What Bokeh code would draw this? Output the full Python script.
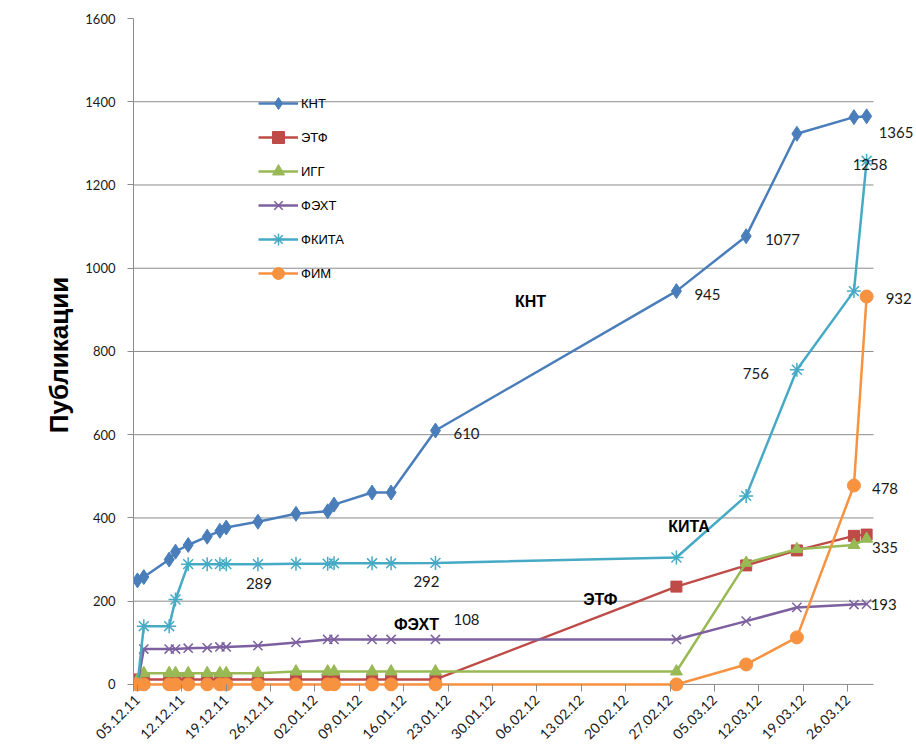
import math
import pandas as pd
from bokeh.plotting import figure
from bokeh.models import (Range1d, FixedTicker, DatetimeTickFormatter, Legend,
                          LegendItem, Label, ColumnDataSource)
from bokeh.embed import file_html
from bokeh.resources import INLINE

# ---------------- data ----------------
dates = ["05.12.11", "06.12.11", "10.12.11", "11.12.11", "13.12.11", "16.12.11",
         "18.12.11", "19.12.11", "24.12.11", "30.12.11", "04.01.12", "05.01.12",
         "11.01.12", "14.01.12", "21.01.12", "28.02.12", "10.03.12", "18.03.12",
         "27.03.12", "29.03.12"]
knt = [250, 258, 300, 319, 335, 355, 369, 377, 391, 410, 416, 432, 461, 461,
       610, 945, 1077, 1323, 1363, 1365]
etf = [12, 12, 12, 12, 12, 12, 12, 12, 12, 12, 12, 12, 12, 12,
       12, 235, 286, 322, 357, 360]
igg = [10, 27, 27, 27, 27, 27, 27, 27, 27, 31, 31, 31, 31, 31,
       31, 31, 292, 325, 335, 350]
fekht = [0, 85, 85, 85, 87, 88, 90, 90, 93, 101, 108, 108, 108, 108,
         108, 108, 152, 185, 192, 193]
fkita = [0, 140, 140, 204, 289, 289, 289, 289, 289, 290, 290, 291, 291, 291,
         292, 305, 453, 756, 945, 1258]
fim = [0, 0, 0, 0, 0, 0, 0, 0, 0, 0, 0, 0, 0, 0,
       0, 0, 48, 113, 478, 932]

tick_labels = ["05.12.11", "12.12.11", "19.12.11", "26.12.11", "02.01.12",
               "09.01.12", "16.01.12", "23.01.12", "30.01.12", "06.02.12",
               "13.02.12", "20.02.12", "27.02.12", "05.03.12", "12.03.12",
               "19.03.12", "26.03.12"]
y_ticks = [0, 200, 400, 600, 800, 1000, 1200, 1400, 1600]

series_names = ["КНТ", "ЭТФ", "ИГГ", "ФЭХТ", "ФКИТА", "ФИМ"]
series_values = [knt, etf, igg, fekht, fkita, fim]

# ---------------- styling ----------------
colors = ["#4A7EBB", "#BE4B48", "#98B954", "#7D60A0", "#46AAC5", "#F69240"]
markers = [("diamond", 15), ("square", 11), ("triangle", 12),
           ("x", 13), ("asterisk", 14), ("circle", 13)]
GRID = "#8C8C8C"
NUM_FONT = "Lato"
TXT_FONT = "Liberation Sans"

x = pd.to_datetime(dates, format="%d.%m.%y")
ticks = pd.to_datetime(tick_labels, format="%d.%m.%y")

# plot area: axis spans 740 px; the frame is widened to the right so that
# the data labels beyond the axis end are not clipped, and a little below 0
# so that the markers lying on 0 are drawn whole
AXIS_W, FRAME_W = 740, 783
x_start = x[0] - pd.Timedelta(hours=15)
x_axis_end = x[-1] + pd.Timedelta(hours=26)
x_end = x_start + (x_axis_end - x_start) * (FRAME_W / AXIS_W)
Y_BELOW = 17

p = figure(width=916, height=748, x_axis_type="datetime",
           output_backend="svg", toolbar_location=None,
           min_border_left=133, min_border_right=0,
           min_border_top=18, min_border_bottom=57)
p.x_range = Range1d(x_start, x_end)
p.y_range = Range1d(-Y_BELOW, 1600)
p.outline_line_color = None
p.background_fill_color = "white"
p.border_fill_color = "white"
p.xgrid.grid_line_color = None
p.ygrid.grid_line_color = None

# horizontal gridlines and x axis line (at 0), ending at the axis end
grid_y = [t for t in y_ticks if 0 <= t < 1600]
p.segment(x0=[x_start] * len(grid_y), y0=grid_y,
          x1=[x_axis_end] * len(grid_y), y1=grid_y,
          line_color=GRID, line_width=1)

# axes
p.yaxis.ticker = FixedTicker(ticks=y_ticks)
p.xaxis.ticker = FixedTicker(ticks=[t.value / 1e6 for t in ticks])
fmt = "%d.%m.%y"
p.xaxis.formatter = DatetimeTickFormatter(
    microseconds=fmt, milliseconds=fmt, seconds=fmt, minsec=fmt, minutes=fmt,
    hourmin=fmt, hours=fmt, days=fmt, months=fmt, years=fmt)
for ax in (p.xaxis[0], p.yaxis[0]):
    ax.axis_line_color = GRID
    ax.major_tick_line_color = GRID
    ax.minor_tick_line_color = None
    ax.major_label_text_font = NUM_FONT
    ax.major_label_text_color = "#1a1a1a"
p.yaxis.major_tick_in = 0
p.yaxis.major_tick_out = 6
p.xaxis.axis_line_color = None
p.xaxis.major_tick_in = 7
p.xaxis.major_tick_out = 0
p.xaxis.major_label_orientation = math.pi / 4
p.xaxis.major_label_text_font_size = "14px"
p.xaxis.major_label_standoff = 6
p.yaxis.major_label_text_font_size = "13px"
p.yaxis.major_label_standoff = 12
p.yaxis.axis_label = "Публикации"
p.yaxis.axis_label_text_font = TXT_FONT
p.yaxis.axis_label_text_font_style = "bold"
p.yaxis.axis_label_text_font_size = "26px"
p.yaxis.axis_label_text_color = "#000000"
p.yaxis.axis_label_standoff = 8

# series
items = []
for name, vals, col, (mk, sz) in zip(series_names, series_values, colors, markers):
    src = ColumnDataSource(dict(x=x, y=vals))
    lr = p.line("x", "y", source=src, line_color=col, line_width=2.5)
    if mk in ("x", "asterisk"):
        sr = p.scatter("x", "y", source=src, marker=mk, size=sz,
                       line_color=col, line_width=1.5)
    else:
        sr = p.scatter("x", "y", source=src, marker=mk, size=sz,
                       fill_color=col, line_color=col)
    items.append(LegendItem(label=name, renderers=[lr, sr]))

legend = Legend(items=items, location=(125, 403),
                label_text_font=TXT_FONT, label_text_font_size="13px",
                label_text_color="#000000",
                glyph_width=40, glyph_height=30, spacing=4,
                padding=0, margin=0, label_standoff=3,
                background_fill_alpha=0, border_line_alpha=0)
p.add_layout(legend)

# data labels: (series index, point index, dx, dy (screen, down positive), align)
label_specs = [
    (0, 14, 18, 3, "left"), (0, 15, 18, 3, "left"), (0, 16, 19, 3, "left"),
    (0, 19, 12, 16, "left"),
    (4, 8, 1, 19, "center"), (4, 14, -9, 19, "center"), (4, 17, -28, 4, "right"),
    (4, 19, -14, 4, "left"),
    (5, 18, 18, 3, "left"), (5, 19, 19, 2, "left"),
    (3, 14, 18, -20, "left"), (3, 19, 4, 0, "left"),
    (2, 18, 18, 3, "left"),
]
for si, pi_, dx, dy, align in label_specs:
    v = series_values[si][pi_]
    p.add_layout(Label(x=x[pi_], y=v, text=str(v), x_offset=dx, y_offset=-dy,
                       text_font=NUM_FONT, text_font_size="15px",
                       text_color="#1a1a1a", text_align=align,
                       text_baseline="middle"))

# series name annotations
name_notes = [("КНТ", "05.02.12", 919), ("КИТА", "01.03.12", 379),
              ("ЭТФ", "16.02.12", 204), ("ФЭХТ", "18.01.12", 144)]
for txt, d, v in name_notes:
    p.add_layout(Label(x=pd.to_datetime(d, format="%d.%m.%y"), y=v, text=txt,
                       text_font=TXT_FONT, text_font_style="bold",
                       text_font_size="16px", text_color="#000000",
                       text_align="center", text_baseline="middle"))

open("out.html", "w").write(file_html(p, INLINE))
